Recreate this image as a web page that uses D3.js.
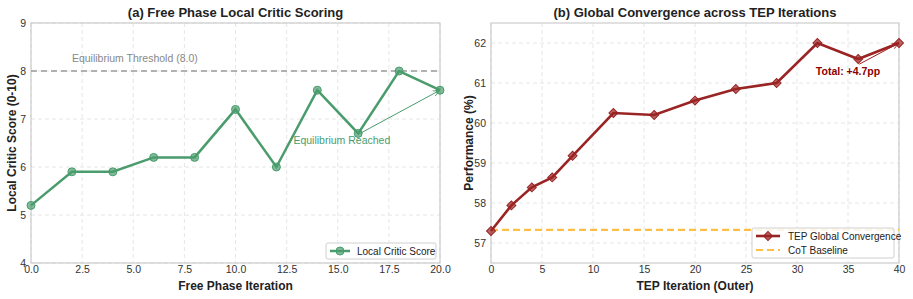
<!DOCTYPE html>
<html>
<head>
<meta charset="utf-8">
<script src="https://cdn.jsdelivr.net/npm/d3@7"></script>
<style>
body { margin: 0; background: #fff; }
text { font-family: "Liberation Sans", Arial, sans-serif; fill: #333; }
</style>
</head>
<body>
<svg id="chart" width="913" height="299"></svg>
<script>
// panel (a)
var freeIter = [0, 2, 4, 6, 8, 10, 12, 14, 16, 18, 20];
var criticScore = [5.2, 5.9, 5.9, 6.2, 6.2, 7.2, 6.0, 7.6, 6.7, 8.0, 7.6];
var freeXTicks = [0, 2.5, 5, 7.5, 10, 12.5, 15, 17.5, 20];
var scoreTicks = [4, 5, 6, 7, 8, 9];
var threshold = 8.0;

// panel (b)
var tepIter = [0, 2, 4, 6, 8, 12, 16, 20, 24, 28, 32, 36, 40];
var tepPerf = [57.3, 57.94, 58.39, 58.64, 59.18, 60.25, 60.2, 60.56, 60.85, 61.0, 62.0, 61.6, 62.0];
var tepXTicks = [0, 5, 10, 15, 20, 25, 30, 35, 40];
var perfTicks = [57, 58, 59, 60, 61, 62];
var cotBaseline = 57.33;

var svg = d3.select('#chart');
var green = '#4a9c6c', red = '#9a2424', orange = '#ffbe45';

function panel(o) {
	var g = svg.append('g');
	var x = d3.scaleLinear().domain(o.xDomain).range([o.left, o.right]);
	var y = d3.scaleLinear().domain(o.yDomain).range([o.bottom, o.top]);

	// grid
	g.selectAll('line.gx').data(o.xTicks).enter().append('line')
		.attr('x1', d => x(d)).attr('x2', d => x(d))
		.attr('y1', o.top).attr('y2', o.bottom)
		.attr('stroke', '#e6e6e6').attr('stroke-dasharray', '4,3');
	g.selectAll('line.gy').data(o.yTicks).enter().append('line')
		.attr('y1', d => y(d)).attr('y2', d => y(d))
		.attr('x1', o.left).attr('x2', o.right)
		.attr('stroke', '#e6e6e6').attr('stroke-dasharray', '4,3');

	var xAxis = g.append('g').attr('transform', 'translate(0,' + o.bottom + ')')
		.call(d3.axisBottom(x).tickValues(o.xTicks).tickSize(0).tickPadding(3).tickFormat(o.xFmt));
	var yAxis = g.append('g').attr('transform', 'translate(' + o.left + ',0)')
		.call(d3.axisLeft(y).tickValues(o.yTicks).tickSize(0).tickPadding(5).tickFormat(d3.format('d')));
	[xAxis, yAxis].forEach(function(a) {
		a.select('.domain').remove();
		a.selectAll('text').style('font-size', '10.5px').style('fill', '#333')
			.style('font-family', '"Liberation Sans", Arial, sans-serif');
	});

	g.append('text').attr('x', (o.left + o.right) / 2).attr('y', 17)
		.attr('text-anchor', 'middle').style('font-size', '13px').style('font-weight', 'bold')
		.style('fill', '#222').text(o.title);
	g.append('text').attr('x', (o.left + o.right) / 2).attr('y', 290)
		.attr('text-anchor', 'middle').style('font-size', '12px').style('font-weight', 'bold')
		.style('fill', '#222').text(o.xLabel);
	g.append('text').attr('transform', 'translate(' + o.yLabelX + ',' + ((o.top + o.bottom) / 2) + ') rotate(-90)')
		.attr('text-anchor', 'middle').style('font-size', '12px').style('font-weight', 'bold')
		.style('fill', '#222').text(o.yLabel);

	g.append('rect').attr('x', o.left).attr('y', o.top)
		.attr('width', o.right - o.left).attr('height', o.bottom - o.top)
		.attr('fill', 'none').attr('stroke', '#cccccc').attr('stroke-width', 1.2);
	return {g: g, x: x, y: y};
}

// ---------- (a)
var a = panel({left: 31, right: 440, top: 23, bottom: 263,
	xDomain: [0, 20], yDomain: [4, 9], xTicks: freeXTicks, yTicks: scoreTicks,
	xFmt: d3.format('.1f'), title: '(a) Free Phase Local Critic Scoring',
	xLabel: 'Free Phase Iteration', yLabel: 'Local Critic Score (0-10)', yLabelX: 16});

a.g.append('line').attr('x1', a.x(0)).attr('x2', a.x(20))
	.attr('y1', a.y(threshold)).attr('y2', a.y(threshold))
	.attr('stroke', '#9a9a9a').attr('stroke-width', 1.6).attr('stroke-dasharray', '6,4');
a.g.append('text').attr('x', a.x(2)).attr('y', a.y(8.18))
	.style('font-size', '10.5px').style('fill', '#888').text('Equilibrium Threshold (' + threshold.toFixed(1) + ')');

var lineA = d3.line().x((d, i) => a.x(freeIter[i])).y(d => a.y(d));
a.g.append('path').datum(criticScore).attr('d', lineA)
	.attr('fill', 'none').attr('stroke', green).attr('stroke-width', 2.5);
a.g.selectAll('circle.pt').data(criticScore).enter().append('circle')
	.attr('cx', (d, i) => a.x(freeIter[i])).attr('cy', d => a.y(d)).attr('r', 4)
	.attr('fill', green).attr('fill-opacity', 0.7).attr('stroke', green).attr('stroke-width', 1);

// annotation arrow
var defs = svg.append('defs');
defs.append('marker').attr('id', 'arrG').attr('viewBox', '0 0 10 10').attr('refX', 10).attr('refY', 5)
	.attr('markerWidth', 7).attr('markerHeight', 7).attr('orient', 'auto')
	.append('path').attr('d', 'M0,1 L10,5 L0,9').attr('fill', 'none').attr('stroke', green).attr('stroke-width', 1.2);
a.g.append('line').attr('x1', a.x(16.05)).attr('y1', a.y(6.69))
	.attr('x2', a.x(20)).attr('y2', a.y(7.6))
	.attr('stroke', green).attr('stroke-width', 1).attr('marker-end', 'url(#arrG)');
a.g.append('text').attr('x', a.x(15.2)).attr('y', a.y(6.48))
	.attr('text-anchor', 'middle').style('font-size', '10.5px').style('fill', green).text('Equilibrium Reached');

// legend (a)
var la = a.g.append('g').attr('transform', 'translate(326,243)');
la.append('rect').attr('width', 110).attr('height', 16).attr('rx', 2)
	.attr('fill', '#fff').attr('fill-opacity', 0.85).attr('stroke', '#d0d0d0');
la.append('line').attr('x1', 4).attr('x2', 24).attr('y1', 8).attr('y2', 8).attr('stroke', green).attr('stroke-width', 2.5);
la.append('circle').attr('cx', 14).attr('cy', 8).attr('r', 4).attr('fill', green).attr('fill-opacity', 0.7).attr('stroke', green);
la.append('text').attr('x', 31).attr('y', 11.5).style('font-size', '10px').style('fill', '#222').text('Local Critic Score');

// ---------- (b)
var b = panel({left: 491, right: 899, top: 23, bottom: 263,
	xDomain: [0, 40], yDomain: [56.5, 62.5], xTicks: tepXTicks, yTicks: perfTicks,
	xFmt: d3.format('d'), title: '(b) Global Convergence across TEP Iterations',
	xLabel: 'TEP Iteration (Outer)', yLabel: 'Performance (%)', yLabelX: 473});

b.g.append('line').attr('x1', b.x(0)).attr('x2', b.x(40))
	.attr('y1', b.y(cotBaseline)).attr('y2', b.y(cotBaseline))
	.attr('stroke', orange).attr('stroke-width', 2.2).attr('stroke-dasharray', '7,4');

var lineB = d3.line().x((d, i) => b.x(tepIter[i])).y(d => b.y(d));
b.g.append('path').datum(tepPerf).attr('d', lineB)
	.attr('fill', 'none').attr('stroke', red).attr('stroke-width', 2.6);
// matplotlib-style 'D' marker: a square turned 45 degrees
var diamond = d3.symbol().type(d3.symbolSquare).size(40);
b.g.selectAll('path.pt').data(tepPerf).enter().append('path')
	.attr('d', diamond)
	.attr('transform', (d, i) => 'translate(' + b.x(tepIter[i]) + ',' + b.y(d) + ') rotate(45)')
	.attr('fill', red).attr('fill-opacity', 0.7).attr('stroke', red).attr('stroke-width', 1);

defs.append('marker').attr('id', 'arrR').attr('viewBox', '0 0 10 10').attr('refX', 10).attr('refY', 5)
	.attr('markerWidth', 7).attr('markerHeight', 7).attr('orient', 'auto')
	.append('path').attr('d', 'M0,1 L10,5 L0,9').attr('fill', 'none').attr('stroke', '#a01c1c').attr('stroke-width', 1.2);
b.g.append('line').attr('x1', b.x(36.1)).attr('y1', b.y(61.47))
	.attr('x2', b.x(40)).attr('y2', b.y(62))
	.attr('stroke', '#a01c1c').attr('stroke-width', 1).attr('marker-end', 'url(#arrR)');
var gain = tepPerf[tepPerf.length - 1] - tepPerf[0];
b.g.append('text').attr('x', b.x(35)).attr('y', b.y(61.2))
	.attr('text-anchor', 'middle').style('font-size', '10.5px').style('font-weight', 'bold')
	.style('fill', '#8b0000').text('Total: +' + gain.toFixed(1) + 'pp');

// legend (b)
var lb = b.g.append('g').attr('transform', 'translate(752,228)');
lb.append('rect').attr('width', 142).attr('height', 30).attr('rx', 2)
	.attr('fill', '#fff').attr('fill-opacity', 0.85).attr('stroke', '#d0d0d0');
lb.append('line').attr('x1', 4).attr('x2', 28).attr('y1', 8).attr('y2', 8).attr('stroke', red).attr('stroke-width', 2.6);
lb.append('path').attr('d', diamond).attr('transform', 'translate(16,8) rotate(45)')
	.attr('fill', red).attr('fill-opacity', 0.7).attr('stroke', red);
lb.append('text').attr('x', 36).attr('y', 11.5).style('font-size', '10px').style('fill', '#222').text('TEP Global Convergence');
lb.append('line').attr('x1', 4).attr('x2', 28).attr('y1', 22).attr('y2', 22)
	.attr('stroke', orange).attr('stroke-width', 2.2).attr('stroke-dasharray', '7,4');
lb.append('text').attr('x', 36).attr('y', 25.5).style('font-size', '10px').style('fill', '#222').text('CoT Baseline');
</script>
</body>
</html>
